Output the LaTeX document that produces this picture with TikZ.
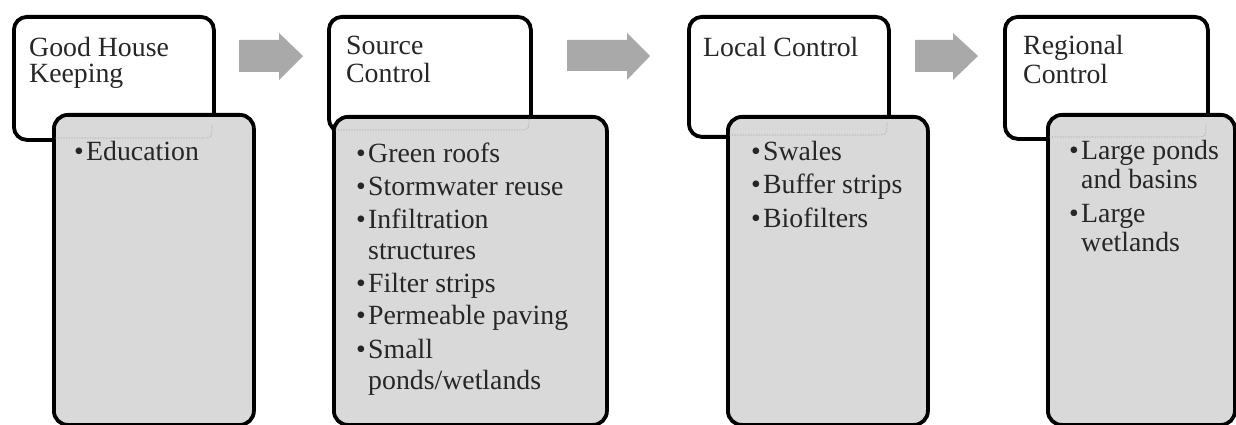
\documentclass[tikz,border=0pt]{standalone}
\usepackage{fontspec}
\setmainfont{Liberation Serif}
\definecolor{txtc}{HTML}{262626}
\definecolor{boxfill}{HTML}{D9D9D9}
\definecolor{arrowgray}{HTML}{A9A9A9}
\definecolor{ghost}{HTML}{9A9A9A}
\begin{document}
\begin{tikzpicture}[x=1pt,y=-1pt,
  hdr/.style={draw=black, line width=3.8pt, rounded corners=13pt, fill=white, anchor=north west, inner sep=0pt, minimum width=200pt},
  lowbox/.style={draw=black, line width=3.8pt, rounded corners=14pt, fill=boxfill, anchor=north west, inner sep=0pt},
  ln/.style={anchor=base west, inner sep=0pt, text=txtc, font=\fontsize{27.8}{29}\selectfont},
  blockarrow/.style={fill=arrowgray, draw=none},
  ghostline/.style={draw=ghost, line width=0.6pt, densely dotted}]
\useasboundingbox[fill=white] (0,0) rectangle (1236,425);
\newcommand{\bul}{\makebox[12pt][l]{•}}
\newcommand{\cont}{\hspace*{12pt}}
% block arrows
\fill[blockarrow] (239,40) -- (279,40) -- (279,33) -- (303,56) -- (279,80) -- (279,72) -- (239,72) -- cycle;
\fill[blockarrow] (567,40) -- (627,40) -- (627,33) -- (650,56) -- (627,80) -- (627,71) -- (567,71) -- cycle;
\fill[blockarrow] (915,40) -- (953,40) -- (953,33) -- (978,56) -- (953,80) -- (953,72) -- (915,72) -- cycle;
% stage 1
\node[hdr, minimum height=123pt] (h1) at (12,15) {};
\node[lowbox, minimum width=200pt, minimum height=310pt] (l1) at (52,113) {};
\draw[ghostline] (55,138) -- (199,138) .. controls (212,138) .. (212,125);
\node[ln] (h1a) at (29,57) {Good House};
\node[ln] (h1b) at (29,83) {Keeping};
\node[ln] (t1a) at (74,160) {\bul Education};
% stage 2
\node[hdr, minimum width=202pt, minimum height=115pt] (h2) at (327,15) {};
\node[lowbox, minimum width=273pt, minimum height=308pt] (l2) at (332,115) {};
\draw[ghostline] (335,130) -- (516,130) .. controls (529,130) .. (529,117);
\node[ln] (h2a) at (346,55) {Source};
\node[ln] (h2b) at (346,83) {Control};
\node[ln] (t2a) at (356,162) {\bul Green roofs};
\node[ln] (t2b) at (356,195) {\bul Stormwater reuse};
\node[ln] (t2c) at (356,228) {\bul Infiltration};
\node[ln] (t2d) at (356,259) {\cont structures};
\node[ln] (t2e) at (356,292) {\bul Filter strips};
\node[ln] (t2f) at (356,324) {\bul Permeable paving};
\node[ln] (t2g) at (356,358) {\bul Small};
\node[ln] (t2h) at (356,389) {\cont ponds/wetlands};
% stage 3
\node[hdr, minimum height=120pt] (h3) at (687,15) {};
\node[lowbox, minimum width=200pt, minimum height=308pt] (l3) at (726,115) {};
\draw[ghostline] (729,135) -- (874,135) .. controls (887,135) .. (887,122);
\node[ln] (h3a) at (703,57) {Local Control};
\node[ln] (t3a) at (751,160) {\bul Swales};
\node[ln] (t3b) at (751,193) {\bul Buffer strips};
\node[ln] (t3c) at (751,227) {\bul Biofilters};
% stage 4
\node[hdr, minimum width=203pt, minimum height=122pt] (h4) at (1003,15) {};
\node[lowbox, minimum width=187pt, minimum height=310pt] (l4) at (1046,113) {};
\draw[ghostline] (1049,137) -- (1193,137) .. controls (1206,137) .. (1206,124);
\node[ln] (h4a) at (1023,55) {Regional};
\node[ln] (h4b) at (1023,84) {Control};
\node[ln] (t4a) at (1069,159) {\bul Large ponds};
\node[ln] (t4b) at (1069,188) {\cont and basins};
\node[ln] (t4c) at (1069,222) {\bul Large};
\node[ln] (t4d) at (1069,251) {\cont wetlands};
\end{tikzpicture}
\end{document}
